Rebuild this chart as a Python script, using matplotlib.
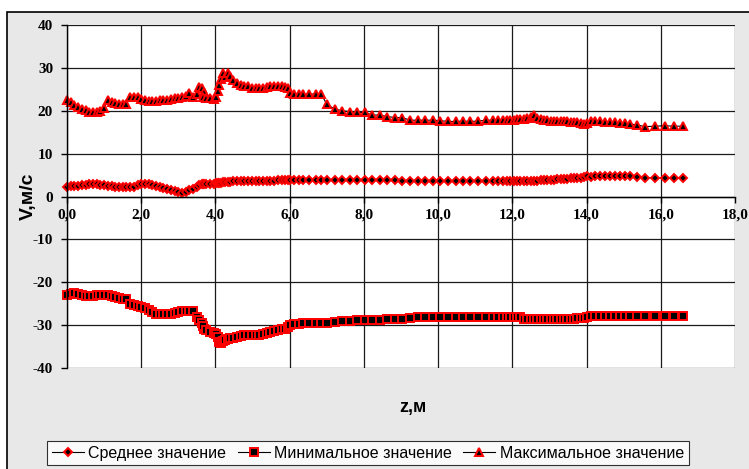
import matplotlib
matplotlib.use("Agg")
import matplotlib.pyplot as plt
from matplotlib.patches import Rectangle
from matplotlib.ticker import FixedLocator, FixedFormatter

plt.rcParams['axes.unicode_minus'] = False

# Measurement positions along the channel, m
z = [0.00, 0.10, 0.20, 0.30, 0.40, 0.50, 0.60, 0.70, 0.80, 0.90,
     1.00, 1.10, 1.20, 1.30, 1.40, 1.50, 1.60, 1.70, 1.80, 1.90,
     2.00, 2.10, 2.20, 2.30, 2.40, 2.50, 2.60, 2.70, 2.80, 2.90,
     3.00, 3.10, 3.20, 3.30, 3.40, 3.50, 3.57, 3.63, 3.70, 3.66,
     3.75, 3.85, 3.95, 4.02, 4.06, 4.10, 4.15, 4.20, 4.27, 4.35,
     4.40, 4.48, 4.58, 4.68, 4.78, 4.88, 4.98, 5.08, 5.18, 5.28,
     5.38, 5.48, 5.58, 5.68, 5.78, 5.88, 5.95, 6.01, 6.12, 6.24,
     6.36, 6.52, 6.70, 6.85, 7.00, 7.21, 7.42, 7.63, 7.82, 8.03,
     8.23, 8.43, 8.63, 8.84, 9.04, 9.24, 9.45, 9.65, 9.86, 10.06,
     10.26, 10.47, 10.67, 10.87, 11.08, 11.28, 11.48, 11.62, 11.76, 11.85,
     11.95, 12.04, 12.13, 12.22, 12.31, 12.40, 12.49, 12.58, 12.67, 12.76,
     12.85, 12.94, 13.03, 13.12, 13.21, 13.30, 13.39, 13.48, 13.57, 13.66,
     13.75, 13.84, 13.93, 14.02, 14.12, 14.24, 14.37, 14.50, 14.63, 14.77,
     14.90, 15.03, 15.16, 15.36, 15.58, 15.85, 16.12, 16.35, 16.60]

# Mean velocity, m/s
v_mean = [2.3, 2.4, 2.5, 2.5, 2.6, 2.7, 2.8, 2.8, 2.8, 2.7,
          2.6, 2.5, 2.4, 2.3, 2.2, 2.1, 2.1, 2.2, 2.3, 2.6,
          2.8, 2.9, 2.8, 2.6, 2.4, 2.2, 2.0, 1.8, 1.6, 1.3,
          1.0, 0.9, 1.1, 1.4, 1.7, 2.2, 2.6, 2.8, 3.0, 2.9,
          2.8, 3.0, 3.0, 3.1, 3.1, 3.2, 3.2, 3.3, 3.4, 3.4,
          3.4, 3.5, 3.5, 3.5, 3.5, 3.6, 3.6, 3.6, 3.6, 3.7,
          3.7, 3.7, 3.7, 3.8, 3.8, 3.8, 3.8, 3.8, 3.8, 3.8,
          3.8, 3.8, 3.8, 3.8, 3.8, 3.8, 3.8, 3.8, 3.8, 3.8,
          3.8, 3.8, 3.8, 3.8, 3.7, 3.7, 3.7, 3.7, 3.7, 3.7,
          3.6, 3.6, 3.6, 3.6, 3.6, 3.6, 3.5, 3.5, 3.5, 3.5,
          3.5, 3.5, 3.5, 3.5, 3.5, 3.6, 3.6, 3.7, 3.7, 3.8,
          3.8, 3.8, 3.9, 3.9, 4.0, 4.0, 4.1, 4.1, 4.2, 4.3,
          4.3, 4.4, 4.5, 4.7, 4.6, 4.7, 4.7, 4.7, 4.7, 4.7,
          4.7, 4.7, 4.7, 4.6, 4.4, 4.3, 4.3, 4.3, 4.3]

# Minimum velocity, m/s
v_min = [-23.0, -22.8, -22.6, -22.7, -23.0, -23.1, -23.2, -23.2, -23.0, -22.9,
         -22.9, -23.0, -23.2, -23.4, -23.6, -23.8, -24.0, -25.0, -25.3, -25.6,
         -25.7, -26.0, -26.5, -27.0, -27.3, -27.3, -27.5, -27.5, -27.3, -27.1,
         -26.9, -26.8, -26.7, -26.8, -26.8, -28.0, -28.8, -29.5, -30.8, -30.3,
         -31.2, -31.5, -31.8, -32.0, -32.8, -33.9, -34.2, -33.8, -33.5, -33.3,
         -33.1, -33.0, -32.7, -32.5, -32.4, -32.3, -32.3, -32.2, -32.2, -32.0,
         -31.8, -31.6, -31.4, -31.2, -31.0, -30.8, -30.4, -30.0, -29.8, -29.7,
         -29.6, -29.5, -29.5, -29.5, -29.5, -29.3, -29.1, -29.1, -28.9, -28.85,
         -28.85, -28.85, -28.6, -28.6, -28.6, -28.3, -28.2, -28.2, -28.2, -28.2,
         -28.2, -28.2, -28.2, -28.2, -28.2, -28.2, -28.2, -28.2, -28.2, -28.2,
         -28.2, -28.2, -28.2, -28.2, -28.5, -28.6, -28.6, -28.6, -28.6, -28.6,
         -28.6, -28.6, -28.6, -28.6, -28.6, -28.6, -28.6, -28.6, -28.6, -28.6,
         -28.3, -28.3, -28.3, -28.2, -27.9, -27.9, -27.9, -27.9, -27.9, -27.9,
         -27.9, -27.9, -27.9, -27.9, -27.9, -27.9, -27.9, -27.9, -27.9]

# Maximum velocity, m/s
v_max = [22.5, 22.1, 21.4, 20.8, 20.4, 20.2, 19.8, 19.8, 19.8, 20.0,
         20.6, 22.4, 22.0, 21.8, 21.6, 21.6, 21.5, 23.3, 23.3, 23.3,
         22.7, 22.4, 22.3, 22.3, 22.3, 22.4, 22.5, 22.6, 22.7, 22.9,
         23.0, 23.2, 23.4, 24.1, 23.2, 24.0, 25.6, 25.3, 24.3, 23.2,
         22.9, 23.0, 22.8, 23.2, 24.5, 26.0, 27.4, 28.7, 27.8, 28.9,
         28.2, 27.2, 26.4, 26.0, 25.8, 25.7, 25.4, 25.2, 25.2, 25.4,
         25.5, 25.7, 25.8, 25.8, 25.8, 25.6, 25.3, 24.1, 23.9, 23.9,
         23.9, 23.9, 23.9, 23.9, 21.5, 20.4, 20.0, 19.8, 19.6, 19.6,
         19.0, 19.0, 18.65, 18.4, 18.4, 17.8, 17.8, 17.8, 17.8, 17.7,
         17.5, 17.5, 17.6, 17.5, 17.6, 17.8, 17.8, 17.8, 17.8, 17.9,
         17.9, 17.9, 18.0, 18.0, 18.1, 18.2, 18.5, 18.9, 18.4, 18.1,
         17.8, 17.8, 17.7, 17.7, 17.6, 17.6, 17.5, 17.5, 17.4, 17.4,
         17.3, 17.2, 17.0, 17.1, 17.5, 17.5, 17.5, 17.4, 17.3, 17.3,
         17.2, 17.1, 16.9, 16.7, 16.3, 16.4, 16.5, 16.4, 16.4]

x_ticks = [0, 2, 4, 6, 8, 10, 12, 14, 16, 18]
x_tick_labels = ["0,0", "2,0", "4,0", "6,0", "8,0", "10,0", "12,0", "14,0", "16,0", "18,0"]
y_ticks = [-40, -30, -20, -10, 0, 10, 20, 30, 40]
y_tick_labels = ["-40", "-30", "-20", "-10", "0", "10", "20", "30", "40"]

series_labels = ["Среднее значение", "Минимальное значение", "Максимальное значение"]

W, H = 749, 469
fig = plt.figure(figsize=(W / 100, H / 100), dpi=100)
fig.patch.set_facecolor("white")

# chart area frame (light grey panel with black outline), kept behind the axes
frame = Rectangle((7 / W, -0.1), 1.2, (H - 12) / H + 0.1,
                  transform=fig.transFigure, facecolor="#e8e8e8",
                  edgecolor="black", linewidth=1.2, zorder=-10)
fig.patches.append(frame)

ax = fig.add_axes([67 / W, 1 - 368 / H, (735 - 67) / W, (368 - 25) / H])
ax.set_zorder(5)
ax.set_facecolor("white")
ax.set_xlim(0, 18)
ax.set_ylim(-40, 40)

ax.xaxis.set_major_locator(FixedLocator(x_ticks))
ax.xaxis.set_major_formatter(FixedFormatter(x_tick_labels))
ax.yaxis.set_major_locator(FixedLocator(y_ticks))
ax.yaxis.set_major_formatter(FixedFormatter(y_tick_labels))

ax.grid(True, color="#1a1a1a", linewidth=0.9)
ax.set_axisbelow(True)

for s in ("top", "right"):
    ax.spines[s].set_visible(False)
ax.spines["bottom"].set_position(("data", 0))
ax.spines["left"].set_linewidth(1.0)
ax.spines["bottom"].set_linewidth(1.0)

ax.tick_params(axis="both", direction="out", length=4, width=1.0, colors="black")
ax.tick_params(axis="x", pad=5)
ax.tick_params(axis="y", pad=6)
for lbl in ax.get_xticklabels() + ax.get_yticklabels():
    lbl.set_fontfamily("Liberation Serif")
    lbl.set_fontweight("bold")
    lbl.set_fontsize(11)

common = dict(color="black", linewidth=0.8, markerfacecolor="black",
              markeredgecolor="red", markeredgewidth=1.4, clip_on=False)
ax.plot(z, v_mean, marker="D", markersize=4.5, label=series_labels[0], **common)
ax.plot(z, v_min, marker="s", markersize=5.3, label=series_labels[1], **common)
ax.plot(z, v_max, marker="^", markersize=6.3, label=series_labels[2], **common)

ax.set_ylabel("V,м/с", fontfamily="Liberation Sans", fontweight="bold", fontsize=14)
ax.yaxis.set_label_coords(-30 / (735 - 67), 0.5)
fig.text(413 / W, 1 - 407 / H, "z,м", fontfamily="Liberation Sans",
         fontweight="bold", fontsize=13, ha="center", va="center")

leg = fig.legend(loc="center", bbox_to_anchor=(368 / W, 1 - 453 / H), ncol=3,
                 frameon=True, fancybox=False, edgecolor="black",
                 prop=dict(family="Liberation Sans", size=11.5),
                 handlelength=2.0, handletextpad=0.3, columnspacing=0.7,
                 borderpad=0.3, borderaxespad=0)
leg.get_frame().set_linewidth(0.8)
leg.get_frame().set_facecolor("white")

fig.savefig("out.png", dpi=100, facecolor=fig.get_facecolor())
